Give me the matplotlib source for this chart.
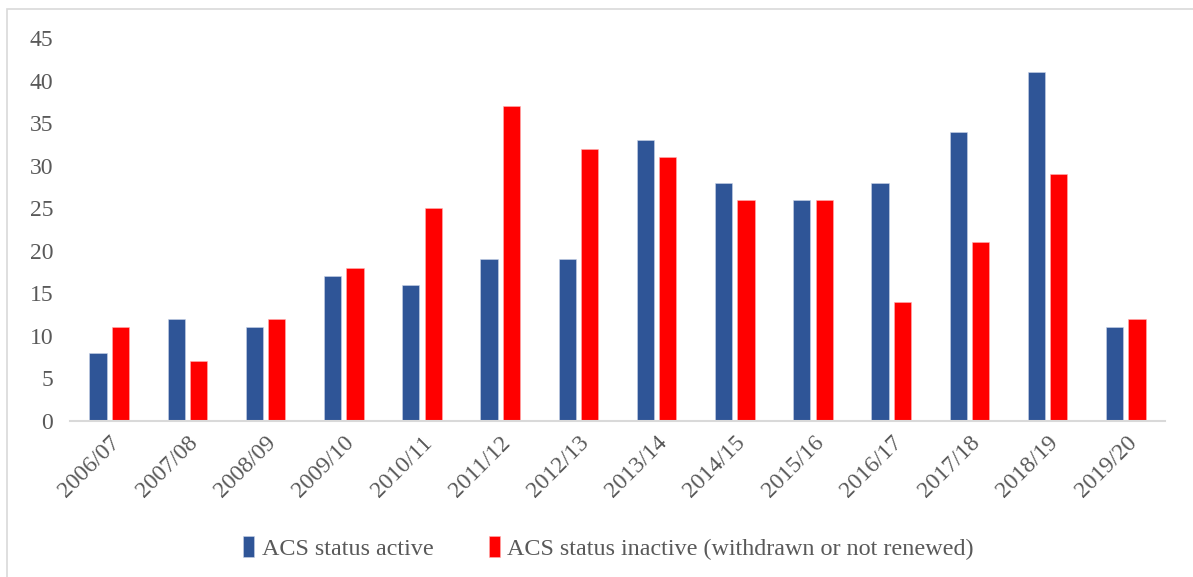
import matplotlib
matplotlib.use("Agg")
import matplotlib.pyplot as plt
from matplotlib.patches import Rectangle
import numpy as np

years = ["2006/07", "2007/08", "2008/09", "2009/10", "2010/11", "2011/12", "2012/13",
         "2013/14", "2014/15", "2015/16", "2016/17", "2017/18", "2018/19", "2019/20"]
active = [8, 12, 11, 17, 16, 19, 19, 33, 28, 26, 28, 34, 41, 11]
inactive = [11, 7, 12, 18, 25, 37, 32, 31, 26, 26, 14, 21, 29, 12]
y_ticks = [0, 5, 10, 15, 20, 25, 30, 35, 40, 45]

plt.rcParams['font.family'] = ['Liberation Serif', 'DejaVu Serif']
text_color = '#595959'

fig = plt.figure(figsize=(11.93, 5.77), dpi=100)
ax = fig.add_axes([0.0587, 0.2704, 0.9178, 0.6636])

x = np.arange(len(years))
w = 0.22
off = 0.143
ax.bar(x - off, active, width=w, color='#2F5597', edgecolor='#c9d3e8', linewidth=0.4,
       label='ACS status active')
ax.bar(x + off, inactive, width=w, color='#FF0000', edgecolor='#ffb0b0', linewidth=0.4,
       label='ACS status inactive (withdrawn or not renewed)')

ax.set_xlim(-0.5, len(years) - 0.5)
ax.set_ylim(0, 45)
ax.set_yticks(y_ticks)
ax.set_xticks(x)
ax.set_xticklabels(years, rotation=45, ha='right', rotation_mode='anchor')
ax.tick_params(axis='both', length=0, labelsize=17, labelcolor=text_color)
ax.tick_params(axis='y', pad=12)
ax.tick_params(axis='x', pad=8)

for s in ['left', 'right', 'top']:
    ax.spines[s].set_visible(False)
ax.spines['bottom'].set_color('#d9d9d9')
ax.spines['bottom'].set_linewidth(1.5)

leg = fig.legend(loc='center', bbox_to_anchor=(0.51, 0.05), ncol=2, frameon=False,
                 fontsize=17.4, handlelength=0.45, handleheight=0.9, handletextpad=0.3,
                 columnspacing=2.3)
for t in leg.get_texts():
    t.set_color(text_color)

# light border around the chart area
fig.patches.append(Rectangle((7 / 1193, -0.05), 1.05, 1 - 9 / 577 + 0.05,
                             transform=fig.transFigure, fill=False,
                             edgecolor='#d9d9d9', linewidth=1.2))

fig.savefig('out.png', dpi=100)
